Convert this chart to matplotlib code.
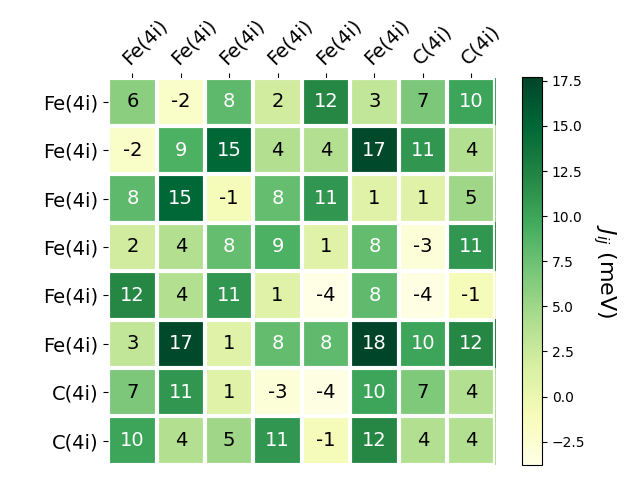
import numpy as np
import matplotlib
matplotlib.use("Agg")
import matplotlib.pyplot as plt

# Site labels
sites = ["Fe(4i)", "Fe(4i)", "Fe(4i)", "Fe(4i)", "Fe(4i)", "Fe(4i)", "C(4i)", "C(4i)"]

# Exchange couplings J_ij (meV), symmetric
J = np.array([
    [6.0, -2.0, 8.2, 2.0, 12.0, 3.0, 6.7, 10.0],
    [-2.0, 9.0, 15.0, 4.0, 4.0, 17.2, 11.0, 4.0],
    [8.2, 15.0, -1.0, 7.8, 11.0, 1.0, 1.0, 5.0],
    [2.0, 4.0, 7.8, 9.0, 1.0, 7.9, -3.0, 11.0],
    [12.0, 4.0, 11.0, 1.0, -3.8, 8.1, -3.7, -1.0],
    [3.0, 17.2, 1.0, 7.9, 8.1, 17.7, 10.0, 12.0],
    [6.7, 11.0, 1.0, -3.0, -3.7, 10.0, 6.6, 4.0],
    [10.0, 4.0, 5.0, 11.0, -1.0, 12.0, 4.0, 4.0],
])

fig = plt.figure(figsize=(6.4, 4.8), dpi=100)
ax = fig.add_axes([0.169, 0.031, 0.605, 0.808])
cax = fig.add_axes([0.816, 0.031, 0.031, 0.808])

im = ax.imshow(J, cmap="YlGn")
cbar = fig.colorbar(im, cax=cax)
cbar.ax.set_ylabel("$J_{ij}$ (meV)", rotation=-90, va="bottom", fontsize=16)

n = len(sites)
ax.set_xticks(np.arange(n))
ax.set_yticks(np.arange(n))
ax.set_xticklabels(sites, fontsize=14)
ax.set_yticklabels(sites, fontsize=14)
ax.tick_params(top=True, bottom=False, labeltop=True, labelbottom=False)
plt.setp(ax.get_xticklabels(), rotation=45, ha="left", rotation_mode="anchor")

for s in ax.spines.values():
    s.set_visible(False)
ax.set_xticks(np.arange(n + 1) - 0.5, minor=True)
ax.set_yticks(np.arange(n + 1) - 0.5, minor=True)
ax.grid(which="minor", color="w", linestyle="-", linewidth=3)
ax.tick_params(which="minor", bottom=False, left=False, top=False)

# annotate cells
thr = im.norm(J.max()) / 2.0
for i in range(n):
    for j in range(n):
        c = "white" if im.norm(J[i, j]) > thr else "black"
        ax.text(j, i, f"{J[i, j]:.0f}", ha="center", va="center", color=c, fontsize=14)

plt.savefig("out.png", dpi=100)
